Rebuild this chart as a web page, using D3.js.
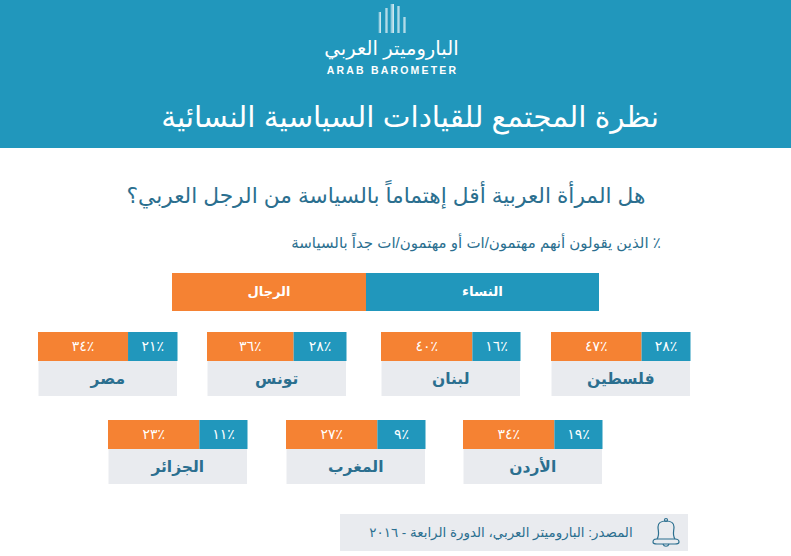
<!DOCTYPE html>
<html lang="ar"><head><meta charset="utf-8">
<style>html,body{margin:0;padding:0;background:#fff}svg{display:block}text{font-family:"Liberation Sans","DejaVu Sans",sans-serif}</style>
<script src="https://cdn.jsdelivr.net/npm/d3@7"></script></head><body>
<script>
const countriesTop=["مصر","تونس","لبنان","فلسطين"];
const menTop=[34,36,40,47];
const womenTop=[21,28,16,28];
const countriesBottom=["الجزائر","المغرب","الأردن"];
const menBottom=[23,27,34];
const womenBottom=[11,9,19];
const legendLabels=["الرجال","النساء"];
const headerTitle="نظرة المجتمع للقيادات السياسية النسائية";
const question="هل المرأة العربية أقل إهتماماً بالسياسة من الرجل العربي؟";
const subtitle="٪ الذين يقولون أنهم مهتمون/ات أو مهتمون/ات جداً بالسياسة";
const source="المصدر: الباروميتر العربي، الدورة الرابعة - ٢٠١٦";

const W=791,H=556,blue="#2197bc",orange="#f58233",grey="#e9ebef",ink="#2b6f8f";
const svg=d3.select("body").append("svg").attr("width",W).attr("height",H);
const locale=d3.formatLocale({decimal:".",thousands:",",grouping:[3],currency:["",""],
  numerals:["٠","١","٢","٣","٤","٥","٦","٧","٨","٩"]});
const fmt=locale.format("d");

svg.append("rect").attr("width",W).attr("height",148).attr("fill",blue);
const grad=svg.append("defs").append("linearGradient").attr("id","lg").attr("x1",0).attr("x2",1);
grad.append("stop").attr("offset",0).attr("stop-color","#fff").attr("stop-opacity",.35);
grad.append("stop").attr("offset",1).attr("stop-color","#fff").attr("stop-opacity",.85);
[[378.5,12],[385,8],[390.5,4],[397,6],[403,17]].forEach(([x,y],i)=>{
  svg.append("rect").attr("x",x).attr("y",y).attr("width",i==2?3.5:2.5).attr("height",33-y).attr("fill","url(#lg)");
});
function t(x,y,s,size,fill,opts={}){
  const e=svg.append("text").attr("x",x).attr("y",y).attr("text-anchor","middle").attr("direction",opts.dir||"rtl")
    .attr("font-size",size).attr("fill",fill).text(s);
  if(opts.weight)e.attr("font-weight",opts.weight);
  if(opts.ls)e.attr("letter-spacing",opts.ls);
  return e;
}
t(391.5,55,"الباروميتر العربي",19.6,"#fff");
t(392.5,74,"ARAB BAROMETER",10.5,"#fff",{dir:"ltr",weight:700,ls:2.2});
t(410,127,headerTitle,29.5,"#fff");
t(386,203,question,21.7,ink);
t(476,248,subtitle,15,ink);

const legendW=d3.scaleLinear().domain([0,1]).range([172,599]);
const split=legendW(0.4543);
svg.append("rect").attr("x",172).attr("y",273).attr("width",split-172).attr("height",38).attr("fill",orange);
svg.append("rect").attr("x",split).attr("y",273).attr("width",599-split).attr("height",38).attr("fill",blue);
t((172+split)/2,296,legendLabels[0],13,"#fff",{weight:700});
t((split+599)/2,296,legendLabels[1],13.5,"#fff",{weight:700});

const cardW=139.5;
const share=d3.scaleLinear().domain([0.56,0.64]).range([0.62,0.655]).clamp(true);
function row(names,men,women,lefts,y){
  const x=d3.scaleOrdinal().domain(names).range(lefts);
  names.forEach((n,i)=>{
    const left=x(n),s=share(men[i]/(men[i]+women[i]));
    const w=d3.scaleLinear().domain([0,1]).range([0,cardW]);
    svg.append("rect").attr("x",left+0.5).attr("y",y+29).attr("width",cardW-1).attr("height",35).attr("fill",grey);
    svg.append("rect").attr("x",left).attr("y",y).attr("width",w(s)).attr("height",29).attr("fill",orange);
    svg.append("rect").attr("x",left+w(s)).attr("y",y).attr("width",w(1-s)).attr("height",29).attr("fill",blue);
    t(left+w(s)/2,y+19,fmt(men[i])+"٪",14,"#fff",{dir:"ltr",ls:3});
    t(left+w(s)+w(1-s)/2,y+19,fmt(women[i])+"٪",14,"#fff",{dir:"ltr",ls:3});
    t(left+cardW/2,y+52,n,15.5,ink,{weight:700});
  });
}
row(countriesTop,menTop,womenTop,[38,207,381,551],332);
row(countriesBottom,menBottom,womenBottom,[108,286,463],420);

svg.append("rect").attr("x",340).attr("y",514).attr("width",348).attr("height",37).attr("fill",grey);
t(501,537,source,13.4,ink);
const bell=svg.append("g").attr("fill","none").attr("stroke",ink).attr("stroke-width",1.2).attr("transform","translate(666,533)");
bell.append("path").attr("d","M-9,6 C-6,2 -8,-2 -8,-6 C-8,-11 -3,-12 0,-12 C3,-12 8,-11 8,-6 C8,-2 6,2 9,6");
bell.append("path").attr("d","M-13,9 C-13,6 -10,6 -9,6 L9,6 C10,6 13,6 13,9 C13,11 10,11 9,11 L-9,11 C-10,11 -13,11 -13,9Z");
bell.append("circle").attr("cy",-13).attr("r",1.5);
bell.append("path").attr("d","M-3,11 C-2,14 2,14 3,11");
</script></body></html>
